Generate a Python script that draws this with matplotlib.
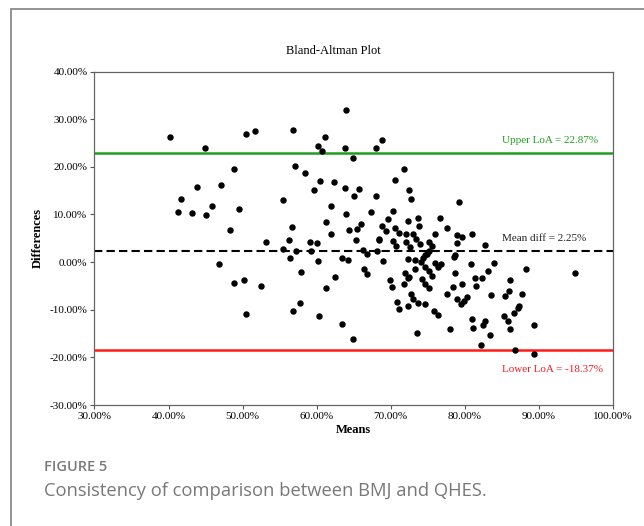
import numpy as np
import matplotlib.pyplot as plt
from matplotlib.patches import Rectangle
from matplotlib.ticker import FuncFormatter

# means (%) and differences (%)
means = [40.14, 44.97, 50.40, 51.73, 56.83, 63.98, 61.10, 60.21, 60.71, 63.87,
         68.03, 68.86, 64.92, 71.85, 48.85, 57.05, 58.38, 43.86, 47.07, 41.64,
         41.25, 43.14, 45.02, 45.85, 49.57, 48.35, 46.80, 48.80, 50.18, 50.51,
         52.51, 53.12, 55.50, 55.50, 56.33, 56.72, 56.44, 57.16, 56.83, 57.77,
         57.94, 59.66, 60.49, 59.16, 60.04, 59.21, 60.21, 60.38, 61.87, 61.26,
         61.98, 62.37, 62.48, 61.32, 63.48, 63.43, 63.82, 63.98, 64.37, 64.26,
         64.98, 65.70, 65.37, 65.98, 65.48, 66.31, 66.37, 66.75, 66.86, 64.92,
         67.31, 68.03, 68.47, 68.36, 68.19, 68.80, 69.30, 69.58, 68.91, 69.91,
         70.13, 70.35, 70.30, 70.63, 70.63, 70.74, 71.07, 70.85, 71.07, 72.07,
         72.07, 71.74, 71.91, 72.29, 72.46, 72.68, 72.57, 72.29, 72.35, 72.46,
         72.35, 72.74, 72.96, 73.02, 73.41, 73.24, 73.30, 73.63, 73.52, 73.68,
         73.79, 73.90, 74.07, 74.29, 74.35, 74.57, 74.62, 74.68, 74.62, 74.90,
         75.12, 75.23, 75.23, 75.18, 75.57, 75.62, 75.84, 76.01, 76.01, 76.45,
         76.40, 76.62, 76.84, 77.56, 77.62, 77.95, 78.39, 78.50, 78.67, 78.72,
         78.89, 79.00, 79.00, 79.22, 79.50, 79.67, 79.67, 79.89, 80.28, 80.89,
         80.94, 81.00, 81.11, 81.33, 81.50, 82.22, 82.38, 82.49, 82.77, 82.72,
         83.16, 83.38, 83.49, 83.93, 85.31, 85.49, 85.82, 85.99, 86.15, 86.04,
         86.65, 86.76, 87.14, 87.36, 87.69, 88.25, 89.31, 89.31, 94.91]
diffs = [26.35, 23.88, 26.84, 27.54, 27.68, 31.98, 26.21, 24.45, 23.39, 23.88,
         24.03, 25.71, 21.91, 19.59, 19.59, 20.23, 18.68, 15.72, 16.14, 13.26,
         10.58, 10.30, 9.95, 11.71, 11.15, 6.71, -0.39, -4.48, -3.77, -10.95,
         -5.04, 4.25, 13.05, 2.84, 4.60, 7.28, 0.87, 2.35, -10.32, -8.56,
         -2.08, 15.23, 16.92, 4.32, 4.11, 2.35, 0.31, -11.30, 11.78, 8.47,
         5.99, 16.71, -3.07, -5.39, -13.06, 0.80, 15.65, 10.02, 6.71, 0.45,
         13.89, 15.44, 4.74, 7.98, 6.85, 2.63, -1.38, -2.50, 1.79, -16.16,
         10.58, 13.96, 4.95, 4.74, 2.35, 7.56, 6.57, 9.11, 0.25, -3.83,
         -5.26, 10.79, 4.53, 17.20, 7.21, 3.48, 6.15, -8.28, -9.82, 5.94,
         4.18, -4.62, -2.22, 8.61, 15.09, 13.33, 3.20, 0.59, -3.35, -3.07,
         -9.19, -6.66, 5.94, -7.85, 4.88, 0.45, -1.38, -8.63, -14.89, 9.32,
         7.56, 3.90, 0.10, -3.56, 0.80, 1.51, -1.10, -4.69, -8.70, 1.79,
         2.28, 4.32, -1.87, -5.53, -2.92, 3.41, -10.32, 5.94, -0.11, -11.02,
         -1.10, 9.25, -0.32, 7.14, -6.73, -14.05, -5.18, 1.01, 1.51, -2.29,
         5.64, 4.11, -7.85, 12.56, -8.84, 5.22, -4.62, -8.14, -7.43, -0.39,
         5.80, -12.00, -13.77, -3.35, -5.04, -17.42, -3.42, -13.13, -12.43, 3.55,
         -1.80, -15.24, -7.01, -0.18, -11.30, -7.15, -12.36, -6.17, -3.70, -13.98,
         -10.74, -18.55, -9.61, -9.19, -6.66, -1.52, -13.20, -19.25, -2.22]

mean_diff = 2.25
upper_loa = 22.87
lower_loa = -18.37

serif = 'Liberation Serif'

fig = plt.figure(figsize=(6.44, 5.26), dpi=100)

# outer card frame (runs off the right and bottom edges)
frame = Rectangle((11 / 644, -0.1), 1.2, 1.1 - 9 / 526,
                  transform=fig.transFigure, fill=False,
                  edgecolor='#808080', linewidth=1.2)
fig.patches.append(frame)

ax = fig.add_axes([0.1467, 0.230, 0.805, 0.634])

ax.scatter(means, diffs, s=13, color='black', zorder=3)
ax.axhline(upper_loa, color='#1e9e1e', lw=1.8)
ax.axhline(mean_diff, color='black', lw=1.5, ls=(0, (4, 2)))
ax.axhline(lower_loa, color='#ff1a1a', lw=1.8)

ax.text(85.0, 25.57, 'Upper LoA = 22.87%', color='#1e9e1e', fontsize=8,
        family=serif, va='center', ha='left')
ax.text(85.0, 4.95, 'Mean diff = 2.25%', color='#222222', fontsize=8,
        family=serif, va='center', ha='left')
ax.text(85.0, -22.63, 'Lower LoA = -18.37%', color='#ee1c24', fontsize=8,
        family=serif, va='center', ha='left')

ax.set_xlim(30, 100)
ax.set_ylim(-30, 40)
ax.set_xticks(np.arange(30, 101, 10))
ax.set_yticks(np.arange(-30, 41, 10))
pct = FuncFormatter(lambda v, p: '%.2f%%' % v)
ax.xaxis.set_major_formatter(pct)
ax.yaxis.set_major_formatter(pct)
ax.tick_params(direction='out', length=3, width=0.8, color='#555555',
               labelsize=8, pad=2)
for lab in ax.get_xticklabels() + ax.get_yticklabels():
    lab.set_family(serif)
for s in ax.spines.values():
    s.set_color('#666666')
    s.set_linewidth(0.9)

ax.set_xlabel('Means', family=serif, fontsize=9, fontweight='bold', labelpad=2)
ax.set_ylabel('Differences', family=serif, fontsize=9, fontweight='bold',
              labelpad=4)

fig.text(333 / 644, 1 - 51 / 526, 'Bland-Altman Plot', family=serif,
         fontsize=9, ha='center', va='center')

fig.text(44 / 644, 1 - 467 / 526, 'FIGURE 5', family='Open Sans',
         fontsize=10.5, fontweight='semibold', color='#7a7a7a',
         ha='left', va='center')
fig.text(44 / 644, 1 - 491 / 526, 'Consistency of comparison between BMJ and QHES.',
         family='Open Sans', fontsize=13.2, color='#787878',
         ha='left', va='center')

fig.savefig('out.png', dpi=100)
